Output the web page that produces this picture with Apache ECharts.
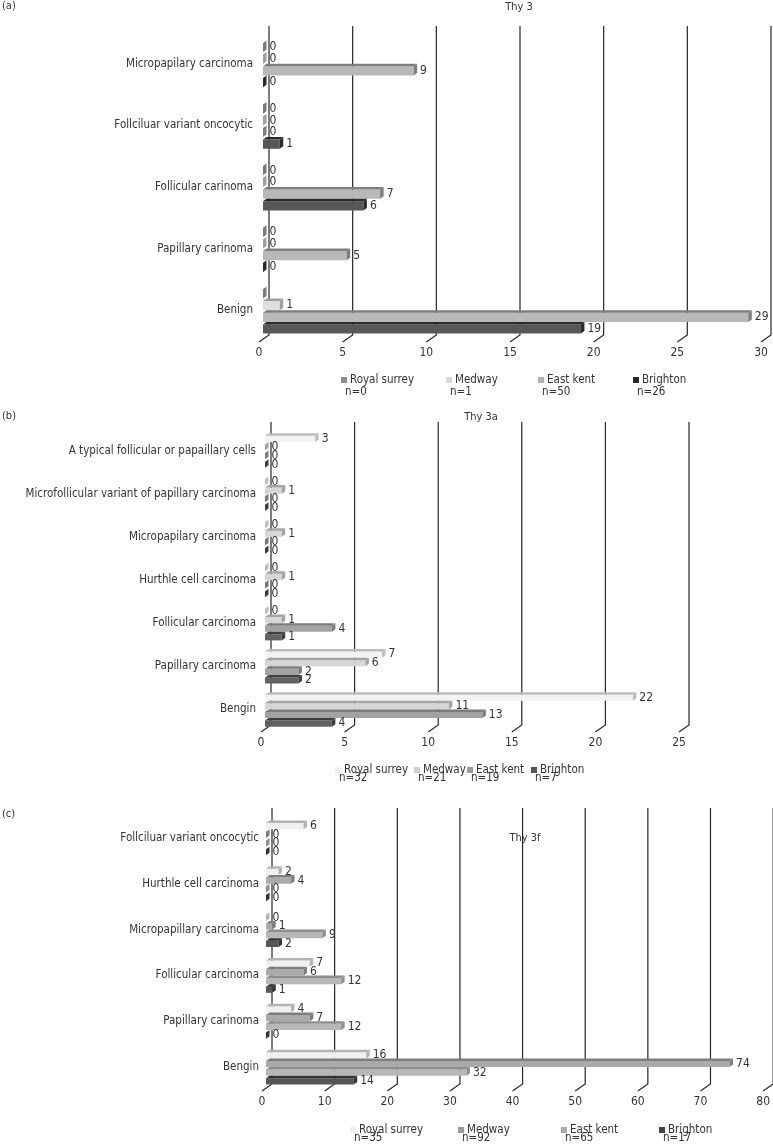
<!DOCTYPE html>
<html>
<head>
<meta charset="utf-8">
<script src="https://cdn.jsdelivr.net/npm/echarts@6/dist/echarts.min.js"></script>
<style>
html,body{margin:0;padding:0;background:#fff;}
#chart{width:773px;height:1145px;}
</style>
</head>
<body>
<div id="chart"></div>
<script>
// ---------- DATA ----------
const seriesNames = ['Royal surrey', 'Medway', 'East kent', 'Brighton'];

// Panel (a) Thy 3
const catA = ['Micropapilary carcinoma', 'Follciluar variant oncocytic', 'Follicular carinoma', 'Papillary carinoma', 'Benign'];
const aRoyalSurrey = [0, 0, 0, 0, 0];
const aMedway = [0, 0, 0, 0, 1];
const aEastKent = [9, 0, 7, 5, 29];
const aBrighton = [0, 1, 6, 0, 19];
const nA = ['n=0', 'n=1', 'n=50', 'n=26'];
const ticksA = [0, 5, 10, 15, 20, 25, 30];

// Panel (b) Thy 3a
const catB = ['A typical follicular or papaillary cells', 'Microfollicular variant of papillary carcinoma', 'Micropapilary carcinoma', 'Hurthle cell carcinoma', 'Follicular carcinoma', 'Papillary carcinoma', 'Bengin'];
const bRoyalSurrey = [3, 0, 0, 0, 0, 7, 22];
const bMedway = [0, 1, 1, 1, 1, 6, 11];
const bEastKent = [0, 0, 0, 0, 4, 2, 13];
const bBrighton = [0, 0, 0, 0, 1, 2, 4];
const nB = ['n=32', 'n=21', 'n=19', 'n=7'];
const ticksB = [0, 5, 10, 15, 20, 25];

// Panel (c) Thy 3f
const catC = ['Follciluar variant oncocytic', 'Hurthle cell carcinoma', 'Micropapillary carcinoma', 'Follicular carcinoma', 'Papillary carinoma', 'Bengin'];
const cRoyalSurrey = [6, 2, 0, 7, 4, 16];
const cMedway = [0, 4, 1, 6, 7, 74];
const cEastKent = [0, 0, 9, 12, 12, 32];
const cBrighton = [0, 0, 2, 1, 0, 14];
const nC = ['n=35', 'n=92', 'n=65', 'n=17'];
const ticksC = [0, 10, 20, 30, 40, 50, 60, 70, 80];

// ---------- FONT PICK ----------
const ctx = document.createElement('canvas').getContext('2d');
function hasFont(f) {
  const t = 'Micropapilary carcinoma 0123';
  let ok = false;
  ['monospace', 'serif'].forEach(g => {
    ctx.font = '12px ' + g; const a = ctx.measureText(t).width;
    ctx.font = '12px "' + f + '", ' + g; const b = ctx.measureText(t).width;
    if (Math.abs(a - b) > 0.5) ok = true;
  });
  return ok;
}
const candidates = ['Liberation Sans Narrow', 'DejaVu Sans Condensed', 'Liberation Sans', 'Roboto'];
let FAM = 'sans-serif';
for (const c of candidates) { if (hasFont(c)) { FAM = '"' + c + '"'; break; } }
const FONT = FAM + ', sans-serif';
ctx.font = '12px ' + FONT;
const refW = ctx.measureText('Micropapilary carcinoma').width;
const CAT_FS = Math.max(11.5, Math.min(13, 12 * 112 / refW));
const LEG_FS = CAT_FS;
const TXT = '#333';

// ---------- LAYOUT / STYLE ----------
const panels = [
  {
    key: 'a', tag: '(a)', title: 'Thy 3', titleX: 519, titleY: 7, tagY: 7,
    cats: catA, values: [aRoyalSurrey, aMedway, aEastKent, aBrighton], ticks: ticksA, n: nA,
    grid: {left: 263, top: 33, width: 502, height: 308}, max: 30, interval: 5, labelMargin: 10,
    slot: 0.19,
    front: ['#9c9c9c', '#dedede', '#b8b8b8', '#575757'],
    topc: ['#7a7a7a', '#9f9f9f', '#7e7e7e', '#2a2a2a'],
    legendColor: ['#8c8c8c', '#d9d9d9', '#b0b0b0', '#262626'],
    legX: [337, 442, 534, 629], legY: 376, nY: 393,
    hideZeroLabel: [[0, 4]]
  },
  {
    key: 'b', tag: '(b)', title: 'Thy 3a', titleX: 481, titleY: 417, tagY: 417,
    cats: catB, values: [bRoyalSurrey, bMedway, bEastKent, bBrighton], ticks: ticksB, n: nB,
    grid: {left: 265, top: 429, width: 418, height: 302}, max: 25, interval: 5, labelMargin: 9,
    slot: 0.2,
    front: ['#f3f3f3', '#d6d6d6', '#a3a3a3', '#626262'],
    topc: ['#bdbdbd', '#a4a4a4', '#7b7b7b', '#3e3e3e'],
    legendColor: ['#f0f0f0', '#d0d0d0', '#9a9a9a', '#555555'],
    legX: [331, 410, 463, 527], legY: 766, nY: 779,
    hideZeroLabel: []
  },
  {
    key: 'c', tag: '(c)', title: 'Thy 3f', titleX: 525, titleY: 838, tagY: 815,
    cats: catC, values: [cRoyalSurrey, cMedway, cEastKent, cBrighton], ticks: ticksC, n: nC,
    grid: {left: 266, top: 815, width: 502, height: 275}, max: 80, interval: 10, labelMargin: 7,
    slot: 0.19,
    front: ['#f0f0f0', '#aaaaaa', '#b7b7b7', '#565656'],
    topc: ['#b3b3b3', '#7e7e7e', '#8e8e8e', '#333333'],
    legendColor: ['#eeeeee', '#9a9a9a', '#ababab', '#444444'],
    legX: [346, 454, 557, 655], legY: 1126, nY: 1139,
    hideZeroLabel: []
  }
];

// ---------- BUILD OPTION ----------
const grids = [], xAxes = [], yAxes = [], series = [], legends = [], graphics = [];

function gridDecor(params, api) {
  const v = api.value(0);
  const p = api.coord([v, 0]);
  const cs = params.coordSys;
  const bx = p[0] + 6;
  return {
    type: 'polyline',
    shape: {points: [[bx, cs.y - 7], [bx, cs.y + cs.height - 6], [p[0] - 4, cs.y + cs.height + 1]]},
    style: {stroke: '#262626', lineWidth: 1.2, fill: null}
  };
}

function barRenderer(panel, s) {
  return function (params, api) {
    const v = api.value(0), ci = api.value(1);
    const base = api.coord([0, ci]);
    const end = api.coord([v, ci]);
    const band = api.size([0, 1])[1];
    const slot = band * panel.slot;
    const top = base[1] - slot * 2 + s * slot;
    const d = 2.5, dx = 3.5;
    const x0 = base[0], x1 = end[0];
    const children = [
      {type: 'rect', shape: {x: x0, y: top + d, width: Math.max(x1 - x0, 0), height: slot - d},
        style: {fill: panel.front[s]}},
      {type: 'polygon', shape: {points: [[x0, top + d], [x0 + dx, top], [x1 + dx, top], [x1, top + d]]},
        style: {fill: panel.topc[s]}},
      {type: 'polygon', shape: {points: [[x1, top + d], [x1 + dx, top], [x1 + dx, top + slot - d], [x1, top + slot]]},
        style: {fill: panel.topc[s]}}
    ];
    const hidden = panel.hideZeroLabel.some(h => h[0] === s && h[1] === ci);
    if (!hidden) {
      children.push({type: 'text', style: {text: String(v), x: x1 + dx + 3, y: top + slot / 2 + 1,
        fill: TXT, font: '12px ' + FONT, verticalAlign: 'middle', textAlign: 'left'}});
    }
    return {type: 'group', children: children};
  };
}

panels.forEach((p, gi) => {
  grids.push(Object.assign({containLabel: false}, p.grid));
  xAxes.push({
    gridIndex: gi, type: 'value', min: 0, max: p.max, interval: p.interval,
    axisLine: {show: false}, axisTick: {show: false}, splitLine: {show: false},
    axisLabel: {margin: 6, fontSize: 12, color: TXT, fontFamily: FONT, padding: [0, 8, 0, 0]}
  });
  yAxes.push({
    gridIndex: gi, type: 'category', inverse: true, data: p.cats,
    axisLine: {show: false}, axisTick: {show: false}, splitLine: {show: false},
    axisLabel: {margin: p.labelMargin, fontSize: CAT_FS, color: TXT, fontFamily: FONT}
  });
  series.push({
    type: 'custom', name: p.key + '-grid', xAxisIndex: gi, yAxisIndex: gi, silent: true, clip: false, z: 1,
    data: p.ticks.map(t => [t, 0]), encode: {x: 0, y: 1}, renderItem: gridDecor
  });
  p.values.forEach((vals, s) => {
    series.push({
      type: 'custom', name: p.key + '|' + seriesNames[s], xAxisIndex: gi, yAxisIndex: gi, clip: false, z: 2 + s,
      itemStyle: {color: p.legendColor[s]},
      data: vals.map((v, i) => [v, i]), encode: {x: 0, y: 1},
      renderItem: barRenderer(p, s)
    });
    legends.push({
      left: p.legX[s] - 1, top: p.legY - 7, icon: 'rect', itemWidth: 6, itemHeight: 6, itemGap: 0,
      selectedMode: false,
      data: [{name: p.key + '|' + seriesNames[s], itemStyle: {color: p.legendColor[s]}}],
      formatter: n => n.split('|')[1],
      textStyle: {fontSize: LEG_FS, color: TXT, fontFamily: FONT, padding: [0, 0, 0, -2]}
    });
    graphics.push({type: 'text', left: p.legX[s] + 8, top: p.nY - 7,
      style: {text: p.n[s], fill: TXT, font: LEG_FS + 'px ' + FONT}});
  });
  graphics.push({type: 'text', left: 2, top: p.tagY - 6, style: {text: p.tag, fill: TXT, font: '11px ' + FONT}});
  graphics.push({type: 'text', x: p.titleX, y: p.titleY, style: {text: p.title, fill: TXT, font: '11px ' + FONT,
    textAlign: 'center', verticalAlign: 'middle'}});
});

const chart = echarts.init(document.getElementById('chart'), null, {renderer: 'canvas'});
chart.setOption({
  animation: false,
  backgroundColor: '#ffffff',
  grid: grids, xAxis: xAxes, yAxis: yAxes, series: series, legend: legends, graphic: graphics
});
</script>
</body>
</html>
